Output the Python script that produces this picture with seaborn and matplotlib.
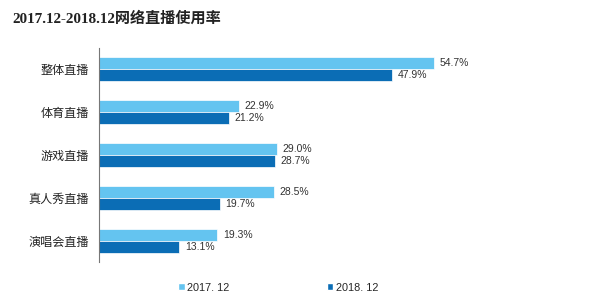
import matplotlib
matplotlib.use("Agg")
import matplotlib.pyplot as plt
import seaborn as sns
import pandas as pd
from matplotlib.patches import Patch

categories = ["整体直播", "体育直播", "游戏直播", "真人秀直播", "演唱会直播"]
series_names = ["2017. 12", "2018. 12"]
values_2017 = [54.7, 22.9, 29.0, 28.5, 19.3]
values_2018 = [47.9, 21.2, 28.7, 19.7, 13.1]
colors = ["#64C4F0", "#0B6DB5"]
title = "2017.12-2018.12网络直播使用率"

sns.set_theme(style="white")
plt.rcParams["font.family"] = ["Noto Sans CJK SC", "DejaVu Sans"]

df = pd.DataFrame({
    "category": categories * 2,
    "value": values_2017 + values_2018,
    "period": [series_names[0]] * len(categories) + [series_names[1]] * len(categories),
})

fig = plt.figure(figsize=(5.97, 2.91), dpi=100)
ax = fig.add_axes([0.166, 0.0997, 0.82, 0.7353])
sns.barplot(data=df, y="category", x="value", hue="period", orient="h",
            palette=colors, width=0.56, ax=ax, legend=False, saturation=1,
            edgecolor="white", linewidth=0.5)

for cont in ax.containers:
    for bar in cont:
        w = bar.get_width()
        yc = bar.get_y() + bar.get_height() / 2
        ax.text(w + 0.9, yc, f"{w:.1f}%", va="center", ha="left",
                fontsize=7.5, color="#333333", family=["Liberation Sans", "DejaVu Sans"])

ax.set_xlim(0, 80)
ax.set_ylim(4.5, -0.5)
ax.set_xlabel("")
ax.set_ylabel("")
ax.set_xticks([])
ax.tick_params(axis="y", length=0, pad=7, labelsize=8.7, labelcolor="#222222")
for s in ["top", "right", "bottom"]:
    ax.spines[s].set_visible(False)
ax.spines["left"].set_color("#777777")
ax.spines["left"].set_linewidth(0.8)

fig.text(0.021, 0.937, title, fontsize=10.9, fontweight="bold", color="#222222",
         family=["Liberation Serif", "Noto Sans CJK SC"], va="center", ha="left")

handles = [Patch(facecolor=c, label=n) for c, n in zip(colors, series_names)]
fig.legend(handles=handles, loc="center", bbox_to_anchor=(0.466, 0.012), ncol=2,
           frameon=False, columnspacing=9.0, handlelength=0.6,
           handleheight=0.6, handletextpad=0.2,
           prop={"family": ["Liberation Sans", "DejaVu Sans"], "size": 7.8})

fig.savefig("out.png", dpi=100, facecolor="white")
